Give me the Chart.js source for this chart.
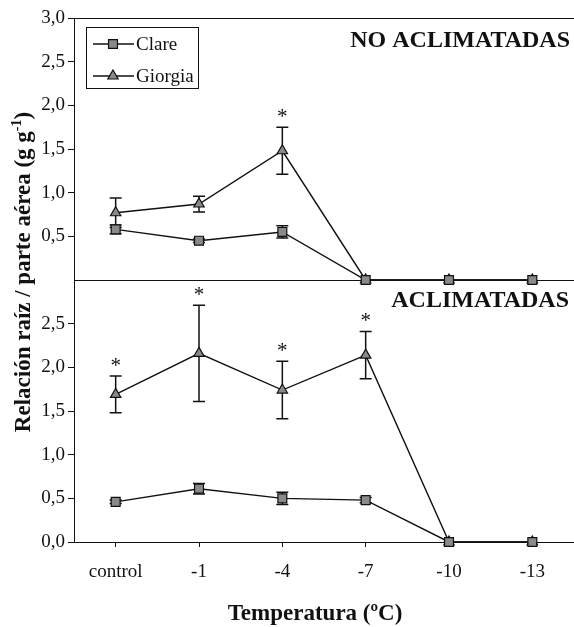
<!DOCTYPE html>
<html><head><meta charset="utf-8">
<script src="https://cdn.jsdelivr.net/npm/chart.js@4"></script>
<style>html,body{margin:0;padding:0;background:#fff}#wrap{width:574px;height:627px}</style>
</head><body><div id="wrap"><canvas id="c" width="574" height="627"></canvas></div>
<script>
const categories = ['control', '-1', '-4', '-7', '-10', '-13'];
const clareNoAclim = [0.58, 0.45, 0.55, 0, 0, 0];
const clareNoAclimErr = [0.05, 0.02, 0.07, 0, 0, 0];
const giorgiaNoAclim = [0.77, 0.87, 1.48, 0, 0, 0];
const giorgiaNoAclimErr = [0.17, 0.09, 0.27, 0, 0, 0];
const clareAclim = [0.46, 0.61, 0.50, 0.48, 0, 0];
const clareAclimErr = [0.02, 0.06, 0.07, 0.03, 0, 0];
const giorgiaAclim = [1.69, 2.16, 1.74, 2.14, 0, 0];
const giorgiaAclimErr = [0.21, 0.55, 0.33, 0.27, 0, 0];
const starsNoAclim = [false, false, true, false, false, false];
const starsAclim = [true, true, true, true, false, false];
const yTicks = [0, 0.5, 1, 1.5, 2, 2.5, 3];
const seriesNames = ['Clare', 'Giorgia'];
const panelTitles = ['NO ACLIMATADAS', 'ACLIMATADAS'];
const xTitle = 'Temperatura (ºC)';
const yTitleMain = 'Relación raíz / parte aérea (g g';
const yTitleSup = '-1';
const yTitleEnd = ')';

const SERIF = '"Liberation Serif", "Times New Roman", serif';
const fmt = v => v.toFixed(1).replace('.', ',');
const markerFill = '#8a8a8a';

function ds(label, data, err, stars, axis, style, radius) {
  return {
    label, data, err, stars, yAxisID: axis,
    borderColor: '#111', borderWidth: 1.4, tension: 0,
    pointStyle: style, pointRadius: radius, pointHoverRadius: radius,
    pointBackgroundColor: markerFill, pointBorderColor: '#111', pointBorderWidth: 1.2,
    fill: false, clip: false
  };
}

const errorBars = {
  id: 'errorBars',
  beforeDatasetsDraw(chart) {
    const ctx = chart.ctx;
    ctx.save();
    ctx.strokeStyle = '#111';
    ctx.lineWidth = 1.5;
    chart.data.datasets.forEach((d, i) => {
      const meta = chart.getDatasetMeta(i);
      const ys = chart.scales[d.yAxisID];
      d.data.forEach((v, j) => {
        const e = d.err[j];
        if (!e) return;
        const x = meta.data[j].x;
        const hi = ys.getPixelForValue(v + e), lo = ys.getPixelForValue(v - e);
        ctx.beginPath();
        ctx.moveTo(x, hi); ctx.lineTo(x, lo);
        ctx.moveTo(x - 6, hi); ctx.lineTo(x + 6, hi);
        ctx.moveTo(x - 6, lo); ctx.lineTo(x + 6, lo);
        ctx.stroke();
      });
    });
    ctx.restore();
  },
  afterDatasetsDraw(chart) {
    const ctx = chart.ctx;
    ctx.save();
    ctx.fillStyle = '#111';
    ctx.font = '21px ' + SERIF;
    ctx.textAlign = 'center';
    ctx.textBaseline = 'middle';
    chart.data.datasets.forEach((d, i) => {
      if (!d.stars) return;
      const meta = chart.getDatasetMeta(i);
      const ys = chart.scales[d.yAxisID];
      d.data.forEach((v, j) => {
        if (!d.stars[j]) return;
        const x = meta.data[j].x;
        const top = ys.getPixelForValue(v + d.err[j]);
        ctx.fillText('*', x, top - 10);
      });
    });
    ctx.restore();
  }
};

function drawMarker(ctx, style, x, y, r) {
  ctx.beginPath();
  if (style === 'rect') {
    const s = r * Math.SQRT1_2;
    ctx.rect(x - s, y - s, 2 * s, 2 * s);
  } else {
    let a = 0;
    ctx.moveTo(x + Math.sin(a) * r, y - Math.cos(a) * r);
    a += 2 * Math.PI / 3;
    ctx.lineTo(x + Math.sin(a) * r, y - Math.cos(a) * r);
    a += 2 * Math.PI / 3;
    ctx.lineTo(x + Math.sin(a) * r, y - Math.cos(a) * r);
    ctx.closePath();
  }
  ctx.fill(); ctx.stroke();
}

const decorations = {
  id: 'decorations',
  afterDraw(chart) {
    const ctx = chart.ctx;
    ctx.save();
    // legend
    ctx.strokeStyle = '#111'; ctx.lineWidth = 1;
    ctx.strokeRect(86.5, 27.5, 112, 61);
    const styles = ['rect', 'triangle'];
    const rows = [44, 76];
    seriesNames.forEach((n, k) => {
      ctx.strokeStyle = '#111'; ctx.lineWidth = 1.4;
      ctx.beginPath(); ctx.moveTo(93, rows[k]); ctx.lineTo(134, rows[k]); ctx.stroke();
      ctx.fillStyle = markerFill; ctx.lineWidth = 1.2;
      drawMarker(ctx, styles[k], 113, rows[k], k === 0 ? 6.3 : 6);
      ctx.fillStyle = '#111';
      ctx.font = '19px ' + SERIF;
      ctx.textAlign = 'left'; ctx.textBaseline = 'middle';
      ctx.fillText(n, 136, rows[k] + 1);
    });
    // panel titles
    ctx.font = 'bold 24px ' + SERIF;
    ctx.textAlign = 'right'; ctx.textBaseline = 'alphabetic';
    ctx.fillText(panelTitles[0], 570, 47);
    ctx.fillText(panelTitles[1], 569, 307);
    // x title
    ctx.font = 'bold 23px ' + SERIF;
    ctx.textAlign = 'center';
    ctx.fillText(xTitle, 315, 620);
    // y title
    ctx.translate(30, 272);
    ctx.rotate(-Math.PI / 2);
    const fMain = 'bold 23px ' + SERIF, fSup = 'bold 14px ' + SERIF;
    ctx.font = fMain;
    const w1 = ctx.measureText(yTitleMain).width;
    const w3 = ctx.measureText(yTitleEnd).width;
    ctx.font = fSup;
    const w2 = ctx.measureText(yTitleSup).width;
    let x0 = -(w1 + w2 + w3) / 2;
    ctx.textAlign = 'left';
    ctx.font = fMain; ctx.fillText(yTitleMain, x0, 0);
    ctx.font = fSup; ctx.fillText(yTitleSup, x0 + w1, -9);
    ctx.font = fMain; ctx.fillText(yTitleEnd, x0 + w1 + w2, 0);
    ctx.restore();
  }
};

function yScale(hideVal, gridVals) {
  return {
    type: 'linear', position: 'left', stack: 'panels', stackWeight: 1,
    min: 0, max: 3,
    afterBuildTicks: s => { s.ticks = yTicks.map(v => ({ value: v })); },
    afterFit: s => { s.width = 74; },
    ticks: {
      color: '#111', padding: 3, autoSkip: false,
      font: { family: SERIF, size: 19 },
      callback: v => (Math.abs(v - hideVal) < 1e-9 ? '' : fmt(v))
    },
    grid: {
      drawOnChartArea: true, drawTicks: true, tickLength: 6,
      lineWidth: 1,
      color: c => (gridVals.includes(c.tick.value) ? '#111' : 'rgba(0,0,0,0)'),
      tickColor: c => (Math.abs(c.tick.value - hideVal) < 1e-9 ? 'rgba(0,0,0,0)' : '#111')
    },
    border: { display: true, color: '#111', width: 1 }
  };
}

new Chart(document.getElementById('c'), {
  type: 'line',
  data: {
    labels: categories,
    datasets: [
      ds(seriesNames[0], clareNoAclim, clareNoAclimErr, null, 'yTop', 'rect', 6.3),
      ds(seriesNames[1], giorgiaNoAclim, giorgiaNoAclimErr, starsNoAclim, 'yTop', 'triangle', 6),
      ds(seriesNames[0], clareAclim, clareAclimErr, null, 'yBot', 'rect', 6.3),
      ds(seriesNames[1], giorgiaAclim, giorgiaAclimErr, starsAclim, 'yBot', 'triangle', 6)
    ]
  },
  options: {
    responsive: false, animation: false, devicePixelRatio: 1,
    layout: { autoPadding: false, padding: { top: 18, left: 0, right: 0, bottom: 0 } },
    plugins: { legend: { display: false }, tooltip: { enabled: false }, title: { display: false } },
    scales: {
      x: {
        type: 'category', offset: true,
        afterFit: s => { s.height = 85; s.paddingLeft = 0; s.paddingRight = 0; },
        ticks: { color: '#111', padding: 14, autoSkip: false, font: { family: SERIF, size: 19 } },
        grid: { drawOnChartArea: false, drawTicks: true, tickLength: 5, color: '#111', tickColor: '#111' },
        border: { display: true, color: '#111', width: 1 }
      },
      yBot: yScale(3, []),
      yTop: yScale(0, [0, 3])
    }
  },
  plugins: [errorBars, decorations]
});
</script>
</body></html>
